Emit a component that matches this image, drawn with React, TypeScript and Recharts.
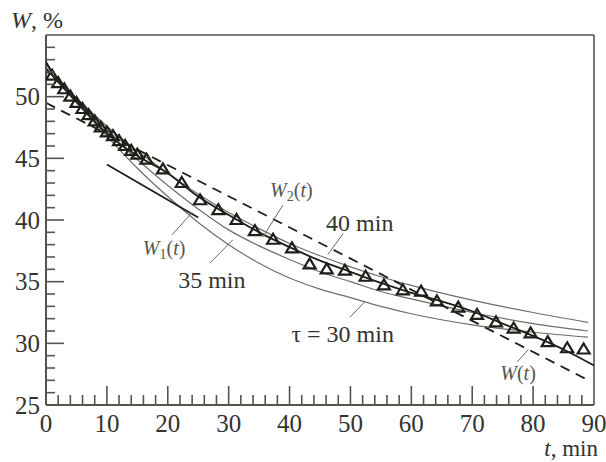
import React from "react";
import {
  ComposedChart,
  Line,
  Scatter,
  XAxis,
  YAxis,
  ReferenceLine,
  ReferenceDot,
} from "recharts";

// ---------- data ----------
const measT = [0, 1, 2, 3, 4, 5, 6, 7, 8, 9, 10, 11, 12, 13, 14, 15, 16.5, 19.2, 22.3, 25.3, 28.3, 31.3, 34.3, 37.3, 40.4, 43.3, 46.1, 49.1, 52.5, 55.5, 58.6, 61.6, 64.2, 67.7, 70.8, 73.9, 76.8, 79.6, 82.4, 85.6, 88.3];
const measW = [52.3, 51.7, 51.1, 50.6, 50.0, 49.5, 49.0, 48.5, 48.0, 47.5, 47.1, 46.8, 46.4, 46.0, 45.6, 45.3, 44.9, 44.1, 43.0, 41.6, 40.8, 40.0, 39.1, 38.4, 37.7, 36.4, 36.0, 35.9, 35.4, 34.7, 34.3, 34.2, 33.4, 32.9, 32.3, 31.7, 31.2, 30.8, 30.1, 29.6, 29.5];

const curveT = [0, 5, 10, 15, 20, 25, 30, 35, 40, 45, 50, 55, 60, 70, 80, 89];
const tau30W = [52.3, 49.5, 46.8, 44.2, 41.9, 39.8, 38.0, 36.5, 35.3, 34.4, 33.7, 33.0, 32.4, 31.5, 30.9, 30.5];
const tau35W = [52.3, 49.7, 47.2, 44.9, 42.8, 40.9, 39.2, 37.9, 36.8, 35.8, 35.0, 34.2, 33.6, 32.5, 31.6, 31.0];
const tau40W = [52.3, 49.9, 47.6, 45.6, 43.8, 42.1, 40.6, 39.3, 38.1, 37.1, 36.2, 35.4, 34.7, 33.5, 32.5, 31.7];

const w2T = [0, 5, 10, 15, 20, 25, 30, 35, 40, 45, 50, 55, 60, 65, 70, 75, 80, 85, 90];
const w2W = [52.3, 49.6, 47.0, 45.2, 43.8, 41.9, 40.4, 39.0, 37.8, 36.7, 35.8, 34.9, 34.1, 33.4, 32.6, 31.6, 30.6, 29.5, 28.2];

const w1T = [10, 25];
const w1W = [44.5, 40.2];

const wT = [0, 89.5];
const wW = [49.5, 26.9];

const xMajor = [0, 10, 20, 30, 40, 50, 60, 70, 80, 90];
const yMajor = [25, 30, 35, 40, 45, 50];
const xTicks = Array.from({ length: 46 }, (_, i) => i * 2);
const yTicks = Array.from({ length: 31 }, (_, i) => 25 + i);

const annoText = ["W2(t)", "40 min", "35 min", "W1(t)", "τ = 30 min", "W(t)"];
const annoT = [36.8, 46.0, 21.7, 15.9, 40.3, 74.6];
const annoW = [41.9, 39.1, 34.5, 37.2, 30.1, 27.0];

const ptrFromT = [38.9, 48.8, 26.9, 20.7, 49.9, 77.4];
const ptrFromW = [41.2, 38.9, 36.5, 38.8, 32.1, 28.5];
const ptrToT = [35.6, 46.3, 30.7, 24.0, 52.4, 79.2];
const ptrToW = [38.6, 37.2, 38.4, 40.6, 33.4, 29.5];

// ---------- styles ----------
const FONT = "'Liberation Serif', serif";
const AXIS = "#55554c";
const TEXT = "#333330";
const DARK = "#1e1e1a";
const THIN = "#6e6e66";

const zip = (ts: number[], ws: number[]) => ts.map((t, i) => ({ t, W: ws[i] }));

const XTick = (props: any) => {
  const { x, y, payload } = props;
  const v = payload.value;
  const major = xMajor.includes(v);
  return (
    <g>
      {v > 0 && v < 90 && (
        <line x1={x} x2={x} y1={y} y2={y - (major ? 19 : 10)} stroke={AXIS} strokeWidth={1.6} />
      )}
      {major && (
        <text x={x} y={y + 27} textAnchor="middle" style={{ fontFamily: FONT }} fontSize={25} fill={TEXT}>
          {v}
        </text>
      )}
    </g>
  );
};

const YTick = (props: any) => {
  const { x, y, payload } = props;
  const v = payload.value;
  const major = yMajor.includes(v);
  return (
    <g>
      {v > 25 && v < 55 && (
        <line x1={x} x2={x + (major ? 18 : 9)} y1={y} y2={y} stroke={AXIS} strokeWidth={1.6} />
      )}
      {major && (
        <text x={x - 6} y={y + 8.5} textAnchor="end" style={{ fontFamily: FONT }} fontSize={25} fill={TEXT}>
          {v}
        </text>
      )}
    </g>
  );
};

const Tri = (props: any) => {
  const { cx, cy } = props;
  if (cx == null || cy == null) return null;
  const h = 10;
  const w = 12;
  return (
    <path
      d={`M${cx},${cy - h * 0.6} L${cx + w / 2},${cy + h * 0.4} L${cx - w / 2},${cy + h * 0.4} Z`}
      fill="none"
      stroke={DARK}
      strokeWidth={2.2}
      strokeLinejoin="miter"
    />
  );
};

const isW = (s: string) => /^W\d?\(t\)$/.test(s);

const renderLabel = (s: string) => {
  const m = s.match(/^W(\d?)\(t\)$/);
  if (m) {
    return [
      <tspan key="a" fontStyle="italic">W</tspan>,
      m[1] ? <tspan key="b" fontSize={14} dy={4}>{m[1]}</tspan> : null,
      <tspan key="c" dy={m[1] ? -4 : 0}>(</tspan>,
      <tspan key="d" fontStyle="italic">t</tspan>,
      <tspan key="e">)</tspan>,
    ];
  }
  return s;
};

export default function App() {
  return (
    <div style={{ position: "absolute", left: 0, top: 0, width: 606, height: 462, background: "#fff" }}>
      <ComposedChart width={606} height={462} margin={{ top: 35, right: 12, bottom: 0, left: 0 }}>
        <XAxis
          type="number"
          dataKey="t"
          domain={[0, 90]}
          ticks={xTicks}
          interval={0}
          height={57}
          tickSize={0}
          tickMargin={0}
          tick={(p: any) => <XTick {...p} />}
          axisLine={{ stroke: AXIS, strokeWidth: 2 }}
          allowDataOverflow
        />
        <YAxis
          type="number"
          dataKey="W"
          domain={[25, 55]}
          ticks={yTicks}
          interval={0}
          width={46}
          tickSize={0}
          tickMargin={0}
          tick={(p: any) => <YTick {...p} />}
          axisLine={{ stroke: AXIS, strokeWidth: 2 }}
          allowDataOverflow
        />
        <ReferenceLine y={55} stroke={AXIS} strokeWidth={1.6} />
        <ReferenceLine x={90} stroke={AXIS} strokeWidth={1.6} />

        <Line data={zip(curveT, tau30W)} dataKey="W" type="monotone" stroke={THIN} strokeWidth={1.2} dot={false} isAnimationActive={false} />
        <Line data={zip(curveT, tau35W)} dataKey="W" type="monotone" stroke={THIN} strokeWidth={1.2} dot={false} isAnimationActive={false} />
        <Line data={zip(curveT, tau40W)} dataKey="W" type="monotone" stroke={THIN} strokeWidth={1.2} dot={false} isAnimationActive={false} />
        <Line data={zip(w2T, w2W)} dataKey="W" type="monotone" stroke={DARK} strokeWidth={1.8} dot={false} isAnimationActive={false} />
        <Line data={zip(w1T, w1W)} dataKey="W" type="linear" stroke={DARK} strokeWidth={1.8} dot={false} isAnimationActive={false} />
        <Line data={zip(wT, wW)} dataKey="W" type="linear" stroke={DARK} strokeWidth={1.8} strokeDasharray="10 7" dot={false} isAnimationActive={false} />
        <Scatter data={zip(measT, measW)} dataKey="W" shape={(p: any) => <Tri {...p} />} isAnimationActive={false} />

        {annoText.map((s, i) => (
          <ReferenceLine
            key={"p" + i}
            segment={[
              { x: ptrFromT[i], y: ptrFromW[i] },
              { x: ptrToT[i], y: ptrToW[i] },
            ]}
            stroke="#6a6a62"
            strokeWidth={1}
          />
        ))}
        {annoText.map((s, i) => (
          <ReferenceDot
            key={"a" + i}
            x={annoT[i]}
            y={annoW[i]}
            r={0}
            shape={(p: any) => (
              <text
                x={p.cx}
                y={p.cy}
                style={{ fontFamily: FONT }}
                fontSize={isW(s) ? 20 : 24}
                fill={isW(s) ? "#55554f" : TEXT}
              >
                {renderLabel(s)}
              </text>
            )}
          />
        ))}
      </ComposedChart>
      <svg width={606} height={462} style={{ position: "absolute", left: 0, top: 0, pointerEvents: "none" }}>
        <text x={11} y={28} style={{ fontFamily: FONT }} fontSize={24} fill={TEXT}>
          <tspan fontStyle="italic">W</tspan>, %
        </text>
        <text x={598} y={456} textAnchor="end" style={{ fontFamily: FONT }} fontSize={23} fill={TEXT}>
          <tspan fontStyle="italic">t</tspan>, min
        </text>
      </svg>
    </div>
  );
}
